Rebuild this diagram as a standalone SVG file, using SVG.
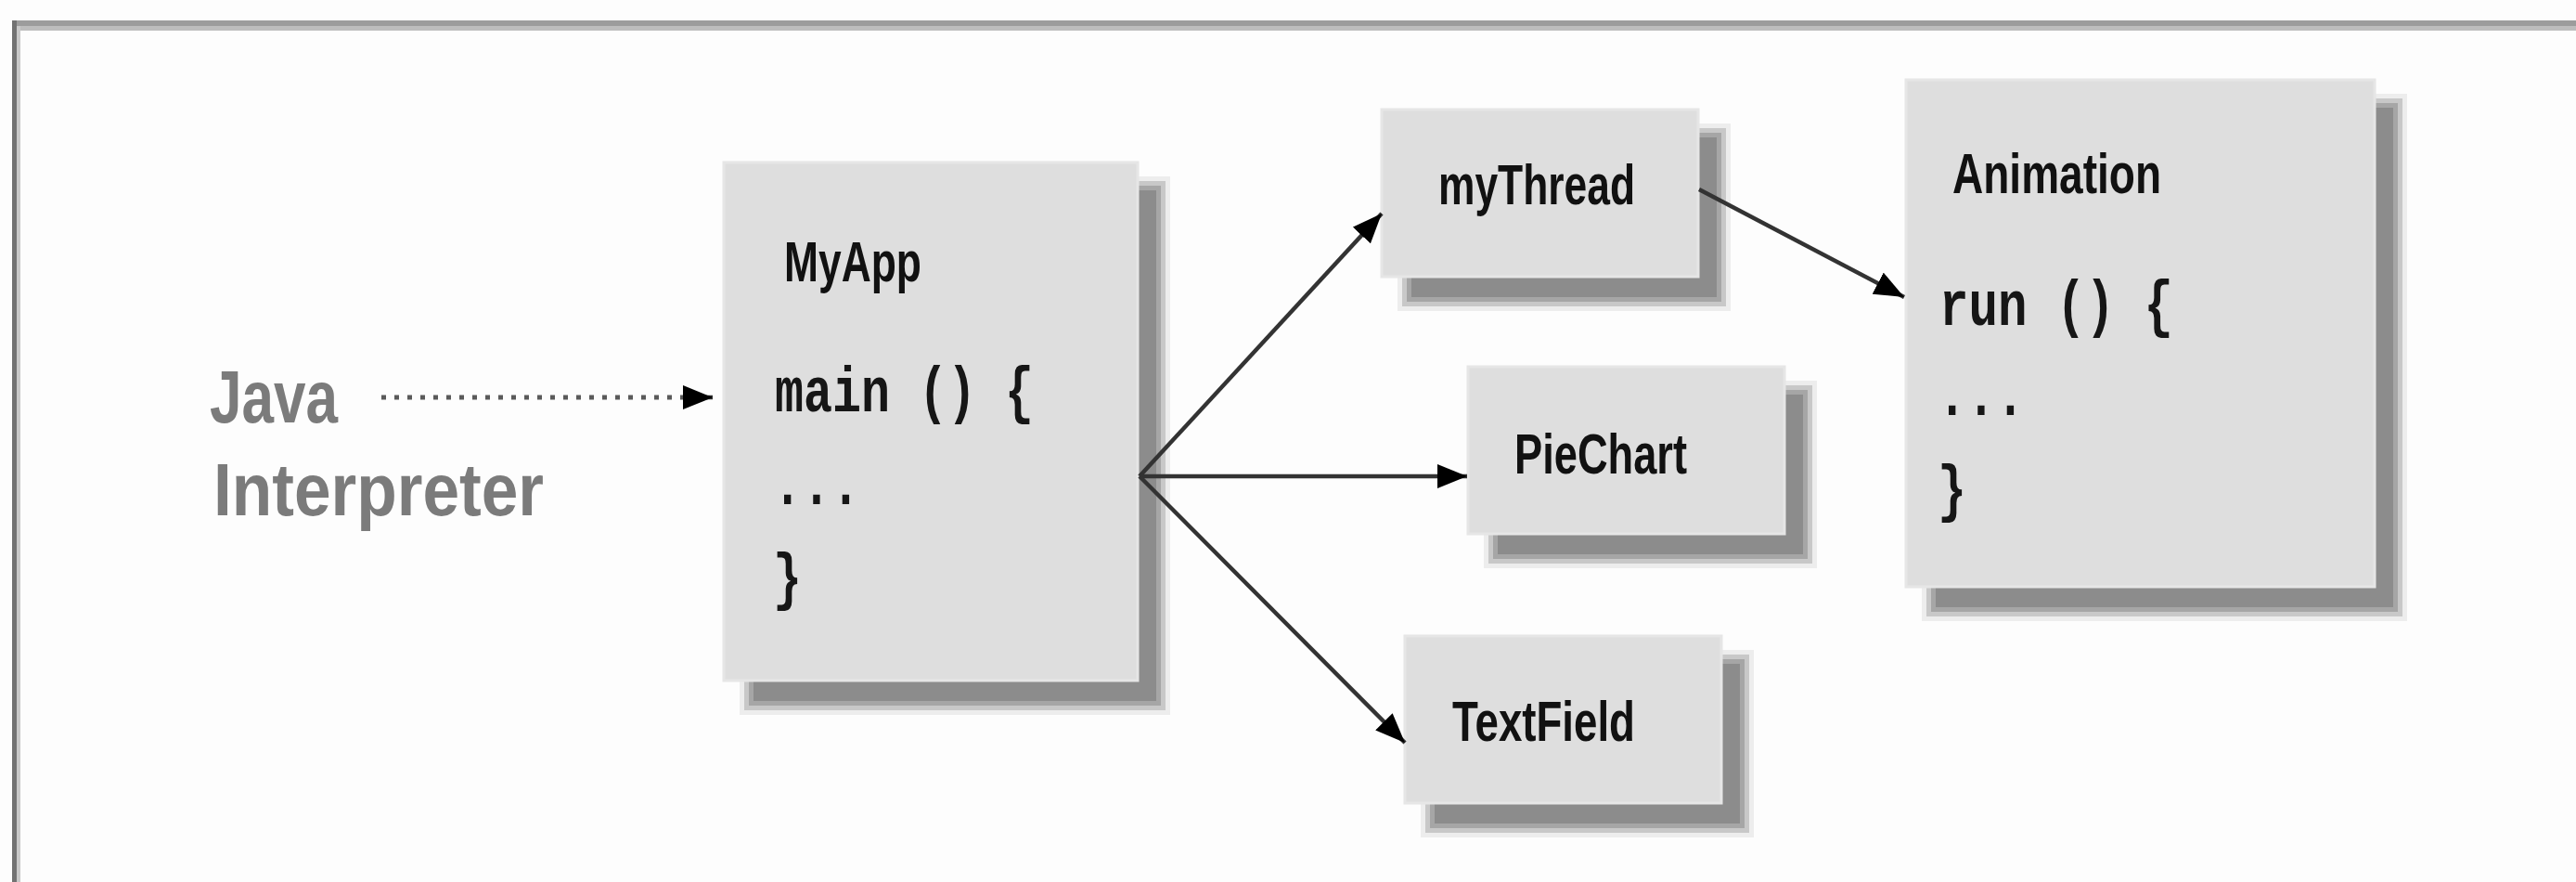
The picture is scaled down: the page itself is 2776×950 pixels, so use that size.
<svg xmlns="http://www.w3.org/2000/svg" width="2776" height="950" viewBox="0 0 2776 950">
<defs>
<style>
.box{fill:#dedede;stroke:#e6e6e6;stroke-width:3}
.s0{fill:#ededed}.s1{fill:#c8c8c8}.s2{fill:#a6a6a6}.s3{fill:#8c8c8c}
.lbl{font-family:"Liberation Sans",Arial,sans-serif;font-weight:bold;font-size:62px;fill:#111}
.code{font-family:"Liberation Mono","DejaVu Sans Mono",monospace;font-weight:bold;font-size:68px;fill:#161616}
.big{font-family:"Liberation Sans",Arial,sans-serif;font-weight:bold;font-size:80px;fill:#7b7b7b}
.conn{stroke:#333;stroke-width:4.5;fill:none}
.dot{stroke:#5a5a5a;stroke-width:5;stroke-dasharray:5 9;fill:none}
</style>
<marker id="ah" markerUnits="userSpaceOnUse" markerWidth="34" markerHeight="26" refX="32" refY="13" orient="auto"><path d="M0,0 L32,13 L0,26 Z" fill="#000"/></marker>
</defs>
<rect x="0" y="0" width="2776" height="950" fill="#fdfdfd"/>
<g id="frame">
<rect x="13" y="22" width="2763" height="6" fill="#9c9c9c"/>
<rect x="18" y="28" width="2758" height="5" fill="#bdbdbd"/>
<rect x="13" y="22" width="5" height="928" fill="#727272"/>
<rect x="18" y="28" width="4" height="922" fill="#c8c8c8"/>
</g>
<g id="java-interpreter">
<text class="big" x="226" y="455" textLength="138" lengthAdjust="spacingAndGlyphs">Java</text>
<text class="big" x="230" y="555" textLength="356" lengthAdjust="spacingAndGlyphs">Interpreter</text>
</g>
<g id="myapp">
<rect class="s0" x="797" y="190" width="464" height="580"/>
<rect class="s1" x="802" y="195" width="454" height="570"/>
<rect class="s2" x="807" y="200" width="444" height="560"/>
<rect class="s3" x="812" y="205" width="434" height="550"/>
<rect class="box" x="780" y="175" width="446" height="558"/>
<text class="lbl" x="845" y="303" textLength="148" lengthAdjust="spacingAndGlyphs">MyApp</text>
<text class="code" x="835" y="443" textLength="279" lengthAdjust="spacingAndGlyphs">main () {</text>
<text class="code" x="833" y="543" textLength="94" lengthAdjust="spacingAndGlyphs">...</text>
<text class="code" x="833" y="644" textLength="31" lengthAdjust="spacingAndGlyphs">}</text>
</g>
<g id="mythread">
<rect class="s0" x="1506" y="133" width="359" height="202"/>
<rect class="s1" x="1511" y="138" width="349" height="192"/>
<rect class="s2" x="1516" y="143" width="339" height="182"/>
<rect class="s3" x="1521" y="148" width="329" height="172"/>
<rect class="box" x="1489" y="118" width="341" height="180"/>
<text class="lbl" x="1550" y="220" textLength="212" lengthAdjust="spacingAndGlyphs">myThread</text>
</g>
<g id="piechart">
<rect class="s0" x="1599" y="410" width="359" height="202"/>
<rect class="s1" x="1604" y="415" width="349" height="192"/>
<rect class="s2" x="1609" y="420" width="339" height="182"/>
<rect class="s3" x="1614" y="425" width="329" height="172"/>
<rect class="box" x="1582" y="395" width="341" height="180"/>
<text class="lbl" x="1632" y="510" textLength="186" lengthAdjust="spacingAndGlyphs">PieChart</text>
</g>
<g id="textfield">
<rect class="s0" x="1531" y="700" width="359" height="202"/>
<rect class="s1" x="1536" y="705" width="349" height="192"/>
<rect class="s2" x="1541" y="710" width="339" height="182"/>
<rect class="s3" x="1546" y="715" width="329" height="172"/>
<rect class="box" x="1514" y="685" width="341" height="180"/>
<text class="lbl" x="1565" y="798" textLength="197" lengthAdjust="spacingAndGlyphs">TextField</text>
</g>
<g id="animation">
<rect class="s0" x="2071" y="101" width="523" height="568"/>
<rect class="s1" x="2076" y="106" width="513" height="558"/>
<rect class="s2" x="2081" y="111" width="503" height="548"/>
<rect class="s3" x="2086" y="116" width="493" height="538"/>
<rect class="box" x="2054" y="86" width="505" height="546"/>
<text class="lbl" x="2104" y="208" textLength="225" lengthAdjust="spacingAndGlyphs">Animation</text>
<text class="code" x="2090" y="350" textLength="252" lengthAdjust="spacingAndGlyphs">run () {</text>
<text class="code" x="2088" y="447" textLength="94" lengthAdjust="spacingAndGlyphs">...</text>
<text class="code" x="2088" y="549" textLength="31" lengthAdjust="spacingAndGlyphs">}</text>
</g>
<g id="connectors">
<line class="dot" x1="411" y1="428" x2="738" y2="428"/>
<line class="conn" x1="738" y1="428" x2="768" y2="428" stroke-width="1" marker-end="url(#ah)"/>
<line class="conn" x1="1228" y1="513" x2="1489" y2="230" marker-end="url(#ah)"/>
<line class="conn" x1="1228" y1="513" x2="1581" y2="513" marker-end="url(#ah)"/>
<line class="conn" x1="1228" y1="513" x2="1514" y2="800" marker-end="url(#ah)"/>
<line class="conn" x1="1831" y1="204" x2="2052" y2="320" marker-end="url(#ah)"/>
</g>
</svg>
